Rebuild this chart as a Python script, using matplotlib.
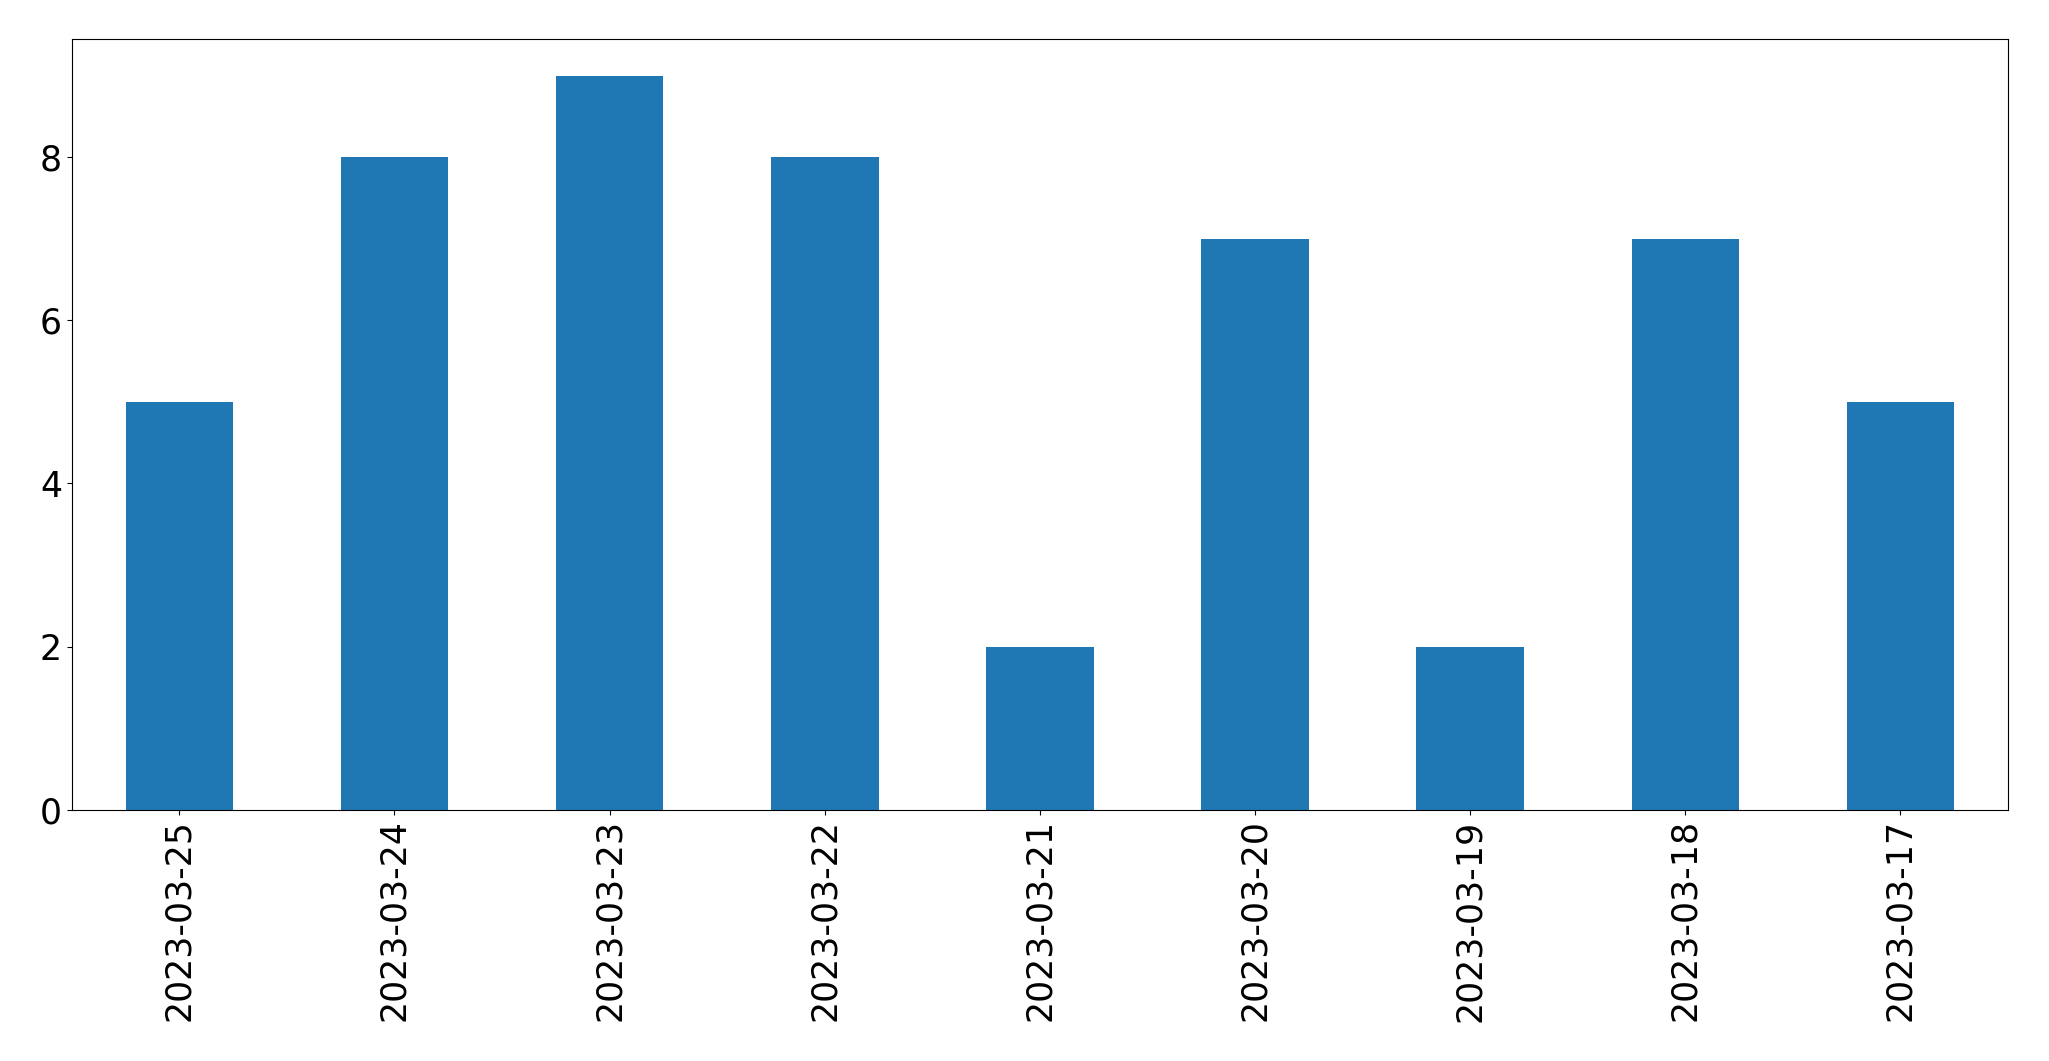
import matplotlib
matplotlib.use('Agg')
import matplotlib.pyplot as plt
import numpy as np

dates = ['2023-03-25', '2023-03-24', '2023-03-23', '2023-03-22', '2023-03-21',
         '2023-03-20', '2023-03-19', '2023-03-18', '2023-03-17']
counts = [5, 8, 9, 8, 2, 7, 2, 7, 5]

fig, ax = plt.subplots(figsize=(20.49, 10.61), dpi=100)
fig.subplots_adjust(left=0.035, right=0.980, top=0.963, bottom=0.237)

x = np.arange(len(dates))
ax.bar(x, counts, width=0.5, color='#1f77b4')
ax.set_xticks(x)
ax.set_xticklabels(dates, rotation=90)
ax.set_xlim(-0.5, len(dates) - 0.5)
ax.set_yticks([0, 2, 4, 6, 8])
ax.tick_params(labelsize=25)

fig.savefig('out.png', dpi=100)
